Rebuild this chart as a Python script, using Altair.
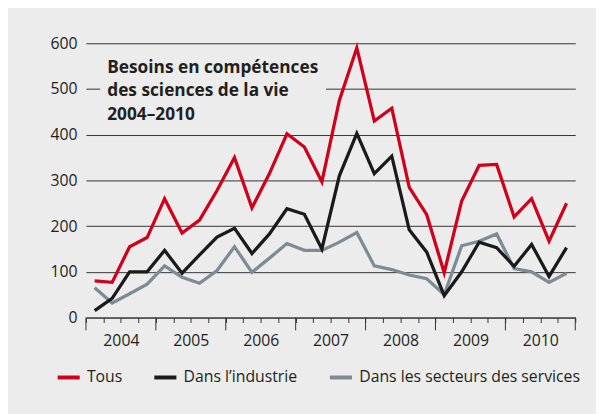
import altair as alt
import pandas as pd

# Quarterly index 2004 Q1 .. 2010 Q4
years = [2004, 2005, 2006, 2007, 2008, 2009, 2010]
tous = [80, 77, 155, 175, 260, 185, 213, 278, 350, 240, 315, 402, 373, 297,
        475, 590, 430, 458, 285, 225, 98, 255, 333, 335, 220, 260, 167, 250]
industrie = [15, 42, 100, 100, 147, 97, 137, 176, 195, 140, 183, 238, 226, 150,
             310, 403, 315, 353, 192, 143, 48, 100, 165, 153, 112, 160, 90, 153]
services = [65, 32, 52, 73, 113, 88, 75, 103, 155, 99, 130, 162, 147, 147,
            165, 186, 113, 105, 93, 85, 50, 157, 167, 183, 107, 100, 77, 97]
series_names = ["Tous", "Dans l\u2019industrie", "Dans les secteurs des services"]
series_colors = ["#d0021b", "#1a1a1a", "#7d8b95"]
y_ticks = [0, 100, 200, 300, 400, 500, 600]
title_lines = ["Besoins en comp\u00e9tences", "des sciences de la vie", "2004\u20132010"]

BG = "#ebeceb"
FONT = "Open Sans"

rows = []
for name, vals in [(series_names[2], services), (series_names[1], industrie), (series_names[0], tous)]:
    for i, v in enumerate(vals):
        rows.append({"t": i + 0.5, "serie": name, "valeur": v})
df = pd.DataFrame(rows)

n_q = len(tous)
xscale = alt.Scale(domain=[0, n_q], nice=False, zero=False)
yscale = alt.Scale(domain=[0, 600], nice=False)

xaxis = alt.Axis(values=list(range(n_q + 1)), title=None, grid=False,
                 tickSize=5, tickColor="#333333", domainColor="#333333",
                 labelExpr="datum.value % 4 == 2 ? toString(" + str(years[0]) + " + floor(datum.value / 4)) : ''",
                 labelOverlap=False, labelFlush=False, labelPadding=10,
                 labelFontSize=16, labelColor="#231f20", labelFont=FONT)
yaxis = alt.Axis(values=y_ticks, title=None, grid=True, gridColor="#333333",
                 gridWidth=1, domain=False, ticks=False, labelPadding=9,
                 labelFontSize=16, labelColor="#231f20", labelFont=FONT)

lines = alt.Chart(df).mark_line(strokeWidth=3.3, strokeJoin="miter").encode(
    x=alt.X("t:Q", scale=xscale, axis=xaxis),
    y=alt.Y("valeur:Q", scale=yscale, axis=yaxis),
    color=alt.Color("serie:N",
                    scale=alt.Scale(domain=series_names, range=series_colors),
                    legend=alt.Legend(title=None, orient="none", direction="horizontal",
                                      legendX=-31, legendY=325,
                                      symbolType="stroke", symbolStrokeWidth=4,
                                      symbolSize=500, labelFontSize=16, labelFont=FONT,
                                      labelColor="#231f20", labelOffset=5, labelLimit=0,
                                      columnPadding=24)),
)

box = alt.Chart(pd.DataFrame({"a": [0]})).mark_rect(color=BG).encode(
    x=alt.X(datum=0.81, scale=xscale, axis=xaxis),
    x2=alt.X2(datum=13.74),
    y=alt.Y(datum=428, scale=yscale, axis=yaxis),
    y2=alt.Y2(datum=570),
)

bounds = pd.DataFrame({"b": list(range(0, n_q + 1, 4))})
major = alt.Chart(bounds).mark_rule(color="#333333", strokeWidth=1, y2Offset=13).encode(
    x=alt.X("b:Q", scale=xscale, axis=xaxis),
    y=alt.Y(datum=0, scale=yscale, axis=yaxis),
    y2=alt.Y2(datum=0),
)

title = alt.Chart(pd.DataFrame({"a": [0]})).mark_text(
    text=title_lines, align="left", baseline="alphabetic", fontSize=17.5,
    fontWeight="bold", font=FONT, color="#231f20", lineHeight=24,
).encode(
    x=alt.X(datum=1.22, scale=xscale, axis=xaxis),
    y=alt.Y(datum=536, scale=yscale, axis=yaxis),
)

chart = alt.layer(box, major, lines, title).properties(
    width=496, height=278,
    autosize=alt.AutoSizeParams(type="none"),
    padding={"left": 79, "top": 33, "right": 21, "bottom": 95},
    background=BG,
).configure_view(stroke=None)

chart.save("out.html", embed_options={"renderer": "svg", "actions": False})
